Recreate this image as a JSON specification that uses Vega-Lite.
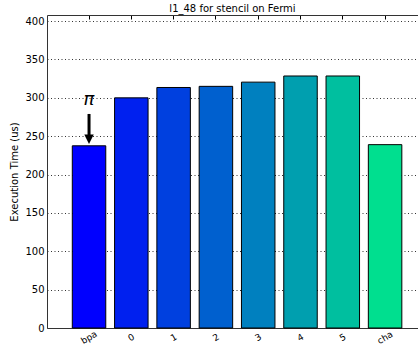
{
  "$schema": "https://vega.github.io/schema/vega-lite/v6.json",
  "width": 371,
  "height": 313,
  "autosize": {"type": "none"},
  "padding": {"left": 47, "top": 15, "right": 0, "bottom": 18},
  "title": {"text": "l1_48 for stencil on Fermi", "fontSize": 10, "fontWeight": "normal", "font": "DejaVu Sans", "offset": -9, "baseline": "bottom", "anchor": "middle", "color": "#000"},
  "config": {
    "view": {"stroke": null},
    "axis": {"labelFont": "DejaVu Sans", "titleFont": "DejaVu Sans", "labelColor": "#000", "titleColor": "#000", "domainColor": "#333", "tickColor": "#000"}
  },
  "datasets": {
    "bars": [
      {"config": "bpa", "time": 237.5},
      {"config": "0", "time": 300},
      {"config": "1", "time": 313.5},
      {"config": "2", "time": 315},
      {"config": "3", "time": 320.5},
      {"config": "4", "time": 328.5},
      {"config": "5", "time": 328.5},
      {"config": "cha", "time": 239}
    ],
    "annot": [
      {"config": "bpa", "shaft_top": 279, "shaft_bottom": 250, "head": 246, "label_y": 297, "label": "π"}
    ]
  },
  "layer": [
    {
      "data": {"name": "bars"},
      "mark": {"type": "bar", "stroke": "#000", "strokeWidth": 1},
      "encoding": {
        "x": {
          "field": "config", "type": "nominal", "sort": null, "title": null,
          "scale": {"domain": ["bpa", "0", "1", "2", "3", "4", "5", "cha"], "paddingInner": 0.208, "paddingOuter": 0.49, "align": 0.61},
          "axis": {"orient": "bottom", "title": null, "labelAngle": -30, "labelAlign": "center", "labelBaseline": "middle", "ticks": false, "labelPadding": 9, "labelFontSize": 9, "grid": false}
        },
        "y": {
          "field": "time", "type": "quantitative", "title": "Execution Time (us)",
          "scale": {"domain": [0, 408], "nice": false, "zero": true},
          "axis": {"values": [0, 50, 100, 150, 200, 250, 300, 350, 400], "labelOverlap": false, "grid": true, "gridDash": [1, 2.5], "gridColor": "#000", "gridOpacity": 0.8, "ticks": false, "labelPadding": 3, "labelFontSize": 10, "titleFontSize": 10, "titleFontWeight": "normal", "titlePadding": 5}
        },
        "color": {
          "field": "config", "type": "nominal", "legend": null,
          "scale": {"domain": ["bpa", "0", "1", "2", "3", "4", "5", "cha"], "range": ["#0000ff", "#0020ef", "#0040df", "#0060cf", "#0080bf", "#009faf", "#00bf9f", "#00df8f"]}
        }
      }
    },
    {
      "data": {"name": "bars"},
      "mark": {"type": "point", "opacity": 0},
      "encoding": {
        "x": {"field": "config", "type": "nominal", "sort": null, "title": null,
          "axis": {"orient": "top", "labels": false, "title": null, "ticks": true, "tickSize": -4, "grid": false}}
      }
    },
    {
      "data": {"name": "annot"},
      "mark": {"type": "rule", "color": "#000", "strokeWidth": 3},
      "encoding": {
        "x": {"field": "config", "type": "nominal", "axis": null},
        "y": {"field": "shaft_top", "type": "quantitative", "title": "Execution Time (us)",
          "axis": {"values": [0, 50, 100, 150, 200, 250, 300, 350, 400], "labelOverlap": false, "grid": true, "gridDash": [1, 2.5], "gridColor": "#000", "gridOpacity": 0.8, "ticks": false, "labelPadding": 3, "labelFontSize": 10, "titleFontSize": 10, "titleFontWeight": "normal", "titlePadding": 5}},
        "y2": {"field": "shaft_bottom"}
      }
    },
    {
      "data": {"name": "annot"},
      "mark": {"type": "point", "shape": "M-1,-1L1,-1L0,1Z", "size": 90, "filled": true, "color": "#000", "opacity": 1},
      "encoding": {
        "x": {"field": "config", "type": "nominal", "axis": null},
        "y": {"field": "head", "type": "quantitative", "title": "Execution Time (us)",
          "axis": {"values": [0, 50, 100, 150, 200, 250, 300, 350, 400], "labelOverlap": false, "grid": true, "gridDash": [1, 2.5], "gridColor": "#000", "gridOpacity": 0.8, "ticks": false, "labelPadding": 3, "labelFontSize": 10, "titleFontSize": 10, "titleFontWeight": "normal", "titlePadding": 5}}
      }
    },
    {
      "data": {"name": "annot"},
      "mark": {"type": "text", "font": "DejaVu Sans", "fontStyle": "italic", "fontSize": 18, "color": "#000", "baseline": "middle"},
      "encoding": {
        "x": {"field": "config", "type": "nominal", "axis": null},
        "y": {"field": "label_y", "type": "quantitative", "title": "Execution Time (us)",
          "axis": {"values": [0, 50, 100, 150, 200, 250, 300, 350, 400], "labelOverlap": false, "grid": true, "gridDash": [1, 2.5], "gridColor": "#000", "gridOpacity": 0.8, "ticks": false, "labelPadding": 3, "labelFontSize": 10, "titleFontSize": 10, "titleFontWeight": "normal", "titlePadding": 5}},
        "text": {"field": "label"}
      }
    }
  ],
  "resolve": {"axis": {"x": "independent"}}
}
